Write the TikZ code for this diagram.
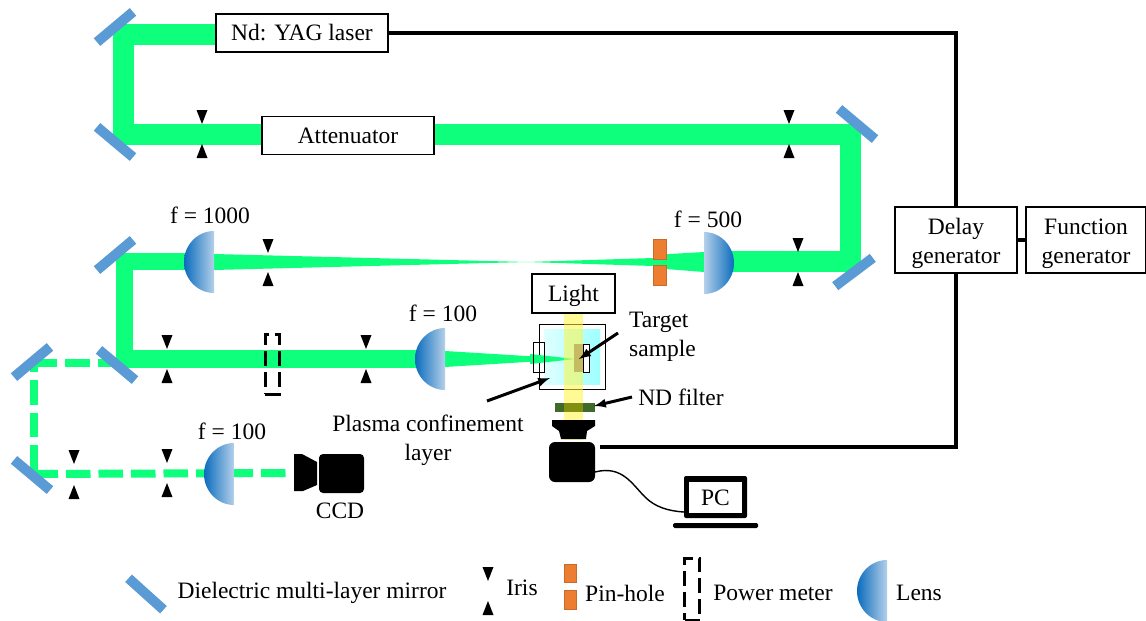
\documentclass[tikz,border=0pt]{standalone}
\usepackage{fontspec}
\setmainfont{Liberation Serif}
\usepackage{xcolor}
\usepackage{tikz}
\usetikzlibrary{shapes,arrows,positioning}
\definecolor{beamgreen}{HTML}{0DFF7B}
\definecolor{mirrorblue}{HTML}{5B9BD5}
\definecolor{holeorange}{HTML}{ED7D31}
\definecolor{lensdark}{HTML}{0B6CBD}
\definecolor{lenslight}{HTML}{B4D0EA}
\definecolor{sampletan}{HTML}{C6BA62}
\definecolor{filterdark}{HTML}{3F6A2A}
\definecolor{filterlit}{HTML}{82900F}
\tikzset{
  box/.style={draw=black, line width=1.4pt, fill=white, inner sep=0pt, align=center, font=\fontsize{23.5}{29}\selectfont},
  lbl/.style={inner sep=0pt, align=center, font=\fontsize{23.5}{29}\selectfont},
  beam/.style={draw=beamgreen, line width=21pt, line join=miter},
  thinbeam/.style={draw=beamgreen, line width=17.5pt, line join=miter},
  dashbeam/.style={draw=beamgreen, line width=8pt, dash pattern=on 24.5pt off 8pt},
  wire/.style={draw=black, line width=3.6pt, line join=miter},
  callout/.style={draw=black, line width=3pt, -latex},
  mirrorbar/.style={fill=mirrorblue, minimum width=47pt, minimum height=10pt, inner sep=0pt},
  meter/.style={draw=black, line width=3pt, dash pattern=on 15pt off 6pt, inner sep=0pt},
  hole/.style={fill=holeorange, draw=holeorange!85!black, line width=.6pt}
}
% iris: x, y top tip, y bottom tip
\newcommand{\iris}[3]{
  \fill (#1-5.5,#2-14) -- (#1+5.5,#2-14) -- (#1,#2) -- cycle;
  \fill (#1-5.5,#3+14) -- (#1+5.5,#3+14) -- (#1,#3) -- cycle;
}
% lens: x of flat side, y of the centre, signed depth
\newcommand{\lens}[3]{
  \ifdim #3pt<0pt
    \shade[left color=lensdark, right color=lenslight]
  \else
    \shade[left color=lenslight, right color=lensdark]
  \fi
  (#1,#2-31) .. controls (#1+#3*.55,#2-31) and (#1+#3,#2-17) .. (#1+#3,#2)
  .. controls (#1+#3,#2+17) and (#1+#3*.55,#2+31) .. (#1,#2+31) -- cycle;
}
\begin{document}
\begin{tikzpicture}[x=1pt,y=-1pt]
  \useasboundingbox (0,0) rectangle (1146,621);

  % boxes
  \node[box, minimum width=172, minimum height=38, text depth=1pt] (laser) at (302,33) {Nd: YAG laser};
  \node[box, minimum width=172, minimum height=38] (atten) at (348,135.5) {Attenuator};
  \node[box, minimum width=122, minimum height=66] (delay) at (956,240) {\rule{0pt}{23pt}Delay\\generator};
  \node[box, minimum width=120, minimum height=66] (func) at (1086,240) {\rule{0pt}{23pt}Function\\generator};

  % wires
  \coordinate (wireA) at (956,33);
  \coordinate (wireB) at (956,447);
  \coordinate (camWire) at (600,447);
  \draw[wire] (laser.east) -- (wireA) -- (delay.north);
  \draw[wire] (delay.south) -- (wireB) -- (camWire);
  \draw[wire] (delay.east) -- (func.west);

  % main beam
  \coordinate (cornerA) at (123.5,34.5);
  \coordinate (cornerB) at (123.5,134);
  \coordinate (cornerC) at (850,134);
  \coordinate (cornerD) at (850,261.5);
  \coordinate (lensR) at (720,261.5);
  \coordinate (lensL) at (200,261.5);
  \coordinate (cornerE) at (124.5,261.5);
  \coordinate (cornerF) at (124.5,359);
  \coordinate (lensM) at (430,359);
  \draw[beam] (laser.west |- cornerA) -- (cornerA) -- (cornerB) -- (atten.west |- cornerB);
  \draw[beam] (atten.east |- cornerC) -- (cornerC) -- (cornerD) -- (lensR);
  \draw[thinbeam] (lensL) -- (cornerE) -- (cornerF) -- (lensM);
  \fill[beamgreen] (214,254) -- (527,262) -- (653,258) -- (653,266) -- (527,262) -- (214,270) -- cycle;
  \fill[beamgreen] (653,255) -- (704,252) -- (704,272) -- (653,268) -- cycle;
  \fill[beamgreen] (445,351) -- (575,359) -- (445,367) -- cycle;

  % pick-off beam
  \coordinate (dashA) at (122,363);
  \coordinate (dashB) at (33.5,363);
  \coordinate (dashC) at (33.5,474);
  \coordinate (dashD) at (290,473);
  \draw[dashbeam] (dashA) -- (dashB);
  \draw[dashbeam, dash phase=15.5pt] (dashB) -- (dashC);
  \draw[dashbeam] (dashC) -- (dashD);

  % sample chamber
  \shade[left color=cyan!12, right color=cyan!38] (544,329) rectangle (600,384);
  \draw[line width=1pt] (539,324) rectangle (605,389);
  \fill[beamgreen] (530,354) -- (575,359) -- (530,364) -- cycle;
  \fill[yellow!75!white, opacity=.55] (564,313) rectangle (583,440);
  \fill[sampletan] (574,344) rectangle (583,372);
  \draw[line width=1pt] (533,342) rectangle (544,372);
  \draw[line width=1pt, fill=white] (583,344) rectangle (589,372);
  \fill[filterdark] (555,403) rectangle (595,412);
  \fill[filterlit] (564,403) rectangle (583,412);
  \node[box, minimum width=83, minimum height=39, text depth=0pt] (light) at (573.5,293.5) {Light};

  % microscope camera
  \fill (552,420) -- (595,420) -- (595,426) -- (587,431) -- (586,439) -- (561,439) -- (559,431) -- (552,426) -- cycle;
  \fill[rounded corners=6pt] (549,442) rectangle (595,482);
  \coordinate (camOut) at (595,472);

  % PC
  \fill[rounded corners=2pt] (684,476) rectangle (747,518);
  \node[fill=white, minimum width=53, minimum height=31, inner sep=0pt, font=\fontsize{23.5}{29}\selectfont] (pc) at (715.5,497.5) {PC};
  \fill[rounded corners=1.5pt] (673,523) rectangle (758,528);
  \coordinate (pcIn) at (684,512);
  \draw[line width=1.4pt] (camOut) .. controls (622,465) and (632,484) .. (645,497) .. controls (655,507) and (668,511) .. (pcIn);

  % CCD
  \fill[rounded corners=4pt] (319,454) rectangle (364,493);
  \fill (294,454) -- (302,454) -- (317,462) -- (317,485) -- (303,491) -- (294,491) -- cycle;
  \node[lbl] (ccd) at (340,511) {CCD};

  % mirrors
  \node[mirrorbar, rotate=40] (mirA) at (115,27) {};
  \node[mirrorbar, rotate=-40] (mirB) at (115,142) {};
  \node[mirrorbar, rotate=-40] (mirC) at (857,124) {};
  \node[mirrorbar, rotate=37] (mirD) at (854,272) {};
  \node[mirrorbar, rotate=40] (mirE) at (115,255) {};
  \node[mirrorbar, rotate=-40] (mirF) at (117,365) {};
  \node[mirrorbar, rotate=40] (mirG) at (32,362) {};
  \node[mirrorbar, rotate=-40] (mirH) at (32,475) {};

  % lenses
  \lens{214}{262}{-30}
  \lens{704}{263}{30}
  \lens{445}{359}{-30}
  \lens{234}{474}{-30}

  % irises
  \iris{202}{124}{144}
  \iris{789}{124}{144}
  \iris{268}{253}{272}
  \iris{798}{252}{272}
  \iris{167}{349}{369}
  \iris{366}{349}{369}
  \iris{74}{464}{485}
  \iris{167}{463}{483}

  % pin-hole and power meter
  \draw[hole] (653,239) rectangle (666,259);
  \draw[hole] (653,265) rectangle (666,285);
  \node[meter, minimum width=14, minimum height=60] (pm) at (272,364) {};

  % labels
  \node[lbl] (fA) at (210,215) {f = 1000};
  \node[lbl] (fB) at (708,219) {f = 500};
  \node[lbl] (fC) at (443,313) {f = 100};
  \node[lbl] (fD) at (232,431) {f = 100};
  \node[lbl, align=left, anchor=west] (target) at (629,337) {Target\\sample};
  \node[lbl] (nd) at (681,397) {ND filter};
  \node[lbl] (plasma) at (428,440) {Plasma confinement\\layer};
  \coordinate (targetTip) at (579,359);
  \coordinate (plasmaTip) at (550,378);
  \coordinate (ndTip) at (594,406);
  \draw[callout] (618,333) -- (targetTip);
  \draw[callout] (487,401) -- (plasmaTip);
  \draw[callout] (632,397) -- (ndTip);

  % legend
  \node[mirrorbar, rotate=-42] (legMir) at (146,594) {};
  \node[lbl] (legMirT) at (312,593) {Dielectric multi-layer mirror};
  \iris{488}{581}{601}
  \node[lbl] (legIris) at (522,588) {Iris};
  \draw[hole] (564,564) rectangle (576,582);
  \draw[hole] (564,590) rectangle (576,609);
  \node[lbl] (legHole) at (625,593) {Pin-hole};
  \node[meter, minimum width=15, minimum height=62] (legPm) at (692,589) {};
  \node[lbl] (legPmT) at (773,593) {Power meter};
  \lens{887}{591}{-30}
  \node[lbl] (legLens) at (919,593) {Lens};
\end{tikzpicture}
\end{document}
